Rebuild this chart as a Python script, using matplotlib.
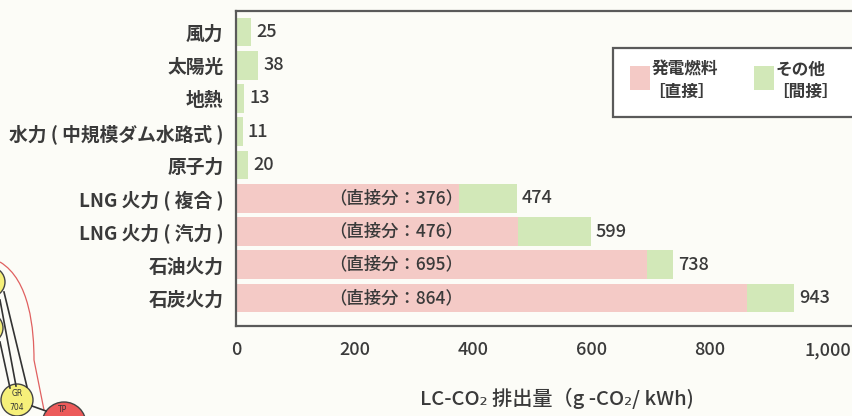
"""Life-cycle CO2 emissions by power source (horizontal stacked bars)"""

import matplotlib
matplotlib.use('Agg')
import matplotlib.pyplot as plt
from matplotlib.patches import Rectangle, Ellipse, PathPatch
from matplotlib.path import Path

sources = ['風力', '太陽光', '地熱', '水力 ( 中規模ダム水路式 )', '原子力',
           'LNG 火力 ( 複合 )', 'LNG 火力 ( 汽力 )', '石油火力', '石炭火力']
totals = [25, 38, 13, 11, 20, 474, 599, 738, 943]
direct = [0, 0, 0, 0, 0, 376, 476, 695, 864]
x_ticks = [0, 200, 400, 600, 800, 1000]
x_tick_labels = ['0', '200', '400', '600', '800', '1,000']

PINK = '#f4cac6'
GREEN = '#d2e8b8'
TEXT = '#3a3a3a'
EDGE = '#5a5a5a'
BG = '#fcfcf7'
JP = ['Noto Sans CJK JP', 'DejaVu Sans']
WEIGHT = 'bold'

W, H = 852, 416


def fx(x):
    return x / W


def fy(y):
    return 1 - y / H


def main():
    plt.rcParams['font.family'] = JP

    fig = plt.figure(figsize=(W / 100, H / 100), dpi=100, facecolor=BG)
    ax = fig.add_axes([fx(236), fy(326), 1050 * 0.592 / W, (326 - 11) / H])
    ax.set_facecolor(BG)

    indirect = [t - d for t, d in zip(totals, direct)]
    ypos = list(range(len(sources)))
    ax.barh(ypos, direct, height=0.86, color=PINK, linewidth=0)
    ax.barh(ypos, indirect, left=direct, height=0.86, color=GREEN, linewidth=0)

    for y, t, d in zip(ypos, totals, direct):
        ax.text(t + 9, y, str(t), va='center', ha='left', fontsize=13,
                color=TEXT, weight='medium')
        if d:
            ax.text(158, y, f'（直接分：{d}）', va='center', ha='left',
                    fontsize=12.5, color=TEXT, weight='medium')

    ax.set_xlim(0, 1050)
    ax.set_ylim(len(sources) - 1 + 0.84, -0.63)
    ax.set_yticks(ypos)
    ax.set_yticklabels(sources, fontsize=13.5, color=TEXT, weight=WEIGHT)
    ax.set_xticks(x_ticks)
    ax.set_xticklabels(x_tick_labels, fontsize=13, color=TEXT, weight='medium')
    ax.tick_params(axis='both', length=0)
    ax.tick_params(axis='x', pad=11)
    ax.tick_params(axis='y', pad=9)
    for side in ('top', 'left', 'bottom'):
        ax.spines[side].set_color(EDGE)
        ax.spines[side].set_linewidth(1.6)
    ax.spines['right'].set_visible(False)

    fig.text(fx(557), fy(398), 'LC-CO₂ 排出量（g -CO₂/ kWh)', ha='center',
             va='center', fontsize=14.5, color=TEXT, weight='medium')

    # legend box
    fig.patches.append(Rectangle((fx(613), fy(117)), fx(260), (117 - 48) / H,
                                 transform=fig.transFigure, facecolor='white',
                                 edgecolor=EDGE, linewidth=1.6))
    for x0, col, l1, l2 in [(630, PINK, '発電燃料', '［直接］'),
                            (754, GREEN, 'その他', '［間接］')]:
        fig.patches.append(Rectangle((fx(x0), fy(90)), fx(20), 24 / H,
                                     transform=fig.transFigure,
                                     facecolor=col, linewidth=0))
        fig.text(fx(x0 + 22), fy(70), l1, ha='left', va='center',
                 fontsize=12, color=TEXT, weight=WEIGHT)
        fig.text(fx(x0 + 18), fy(92), l2, ha='left', va='center',
                 fontsize=12, color=TEXT, weight=WEIGHT)

    # corner of a neighbouring diagram
    def fpt(x, y):
        return (fx(x), fy(y))

    for (x0, y0), (x1, y1) in [((4, 292), (27, 387)), ((0, 300), (16, 386)),
                               ((0, 342), (10, 388)), ((32, 406), (46, 411))]:
        fig.lines.append(plt.Line2D([fx(x0), fx(x1)], [fy(y0), fy(y1)],
                                    transform=fig.transFigure, color='#333333',
                                    linewidth=1.2))
    outline = Path([fpt(0, 262), fpt(30, 280), fpt(34, 330), fpt(34, 360),
                    fpt(44, 410)],
                   [Path.MOVETO, Path.CURVE4, Path.CURVE4, Path.CURVE4,
                    Path.LINETO])
    fig.patches.append(PathPatch(outline, transform=fig.transFigure,
                                 facecolor='none', edgecolor='#e06060',
                                 linewidth=0.9))
    for cx, cy, r, col in [(-10, 282, 15, '#f6f07a'), (-12, 328, 15, '#f6f07a'),
                           (17, 400, 16, '#f6f07a'), (64, 424, 22, '#ec5a5a')]:
        fig.patches.append(Ellipse((fx(cx), fy(cy)), 2 * r / W, 2 * r / H,
                                   transform=fig.transFigure, facecolor=col,
                                   edgecolor='#444444', linewidth=1.0))
    fig.text(fx(17), fy(394), 'GR', ha='center', va='center', fontsize=5.5,
             color='#333333', family='DejaVu Sans')
    fig.text(fx(17), fy(407), '704', ha='center', va='center', fontsize=5.5,
             color='#333333', family='DejaVu Sans')
    fig.text(fx(63), fy(409), 'TP', ha='center', va='center', fontsize=5.5,
             color='#333333', family='DejaVu Sans')

    fig.savefig('out.png', dpi=100, facecolor=BG)


if __name__ == "__main__":
    main()
